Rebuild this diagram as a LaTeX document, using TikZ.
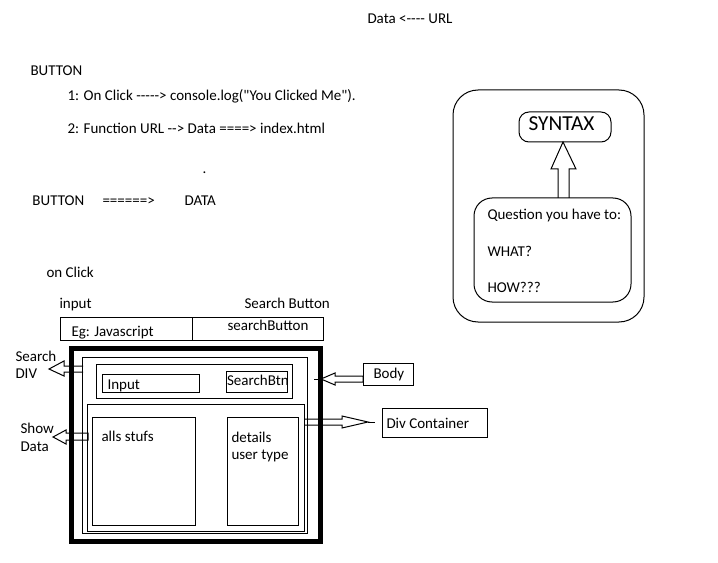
\documentclass[tikz,border=0pt]{standalone}
\usepackage{fontspec}
\setmainfont{Carlito}[Ligatures=TeXOff]
\tikzset{
  box/.style={draw,rectangle,inner sep=0pt},
  txt/.style={anchor=base west,inner sep=0pt,font=\fontsize{11.25}{13}\selectfont},
  hollow/.style={draw,fill=white,line join=miter}
}
\begin{document}
\begin{tikzpicture}[x=0.75pt,y=-0.75pt,line width=0.75pt]
\useasboundingbox[fill=white] (0,0) rectangle (718,563);

% ---- top texts
\node[txt] (tdu) at (367,24) {Data <---- URL};
\node[txt] (tb1) at (30,76) {BUTTON};
\node[txt] (tl1) at (67,101) {1: On Click -----> console.log("You Clicked Me").};
\node[txt] (tl2) at (67,134) {2: Function URL --> Data ====> index.html};
\node[txt] (tdot) at (202,174) {.};
\node[txt] (tb2) at (32,206) {BUTTON};
\node[txt] (teq) at (102,206) {======>};
\node[txt] (tdata) at (184,206) {DATA};
\node[txt] (tclick) at (46,277) {on Click};
\node[txt] (tinput) at (59,308) {input};
\node[txt] (tsb) at (244,308) {Search Button};

% ---- table
\node[box,minimum width=99pt,minimum height=17.25pt] (cellA) at (126,328.5) {};
\node[box,minimum width=98.25pt,minimum height=17.25pt] (cellB) at (257.5,328.5) {};
\node[txt] (teg) at (71,336) {Eg: Javascript};
\node[txt] (tsbtn) at (227,330) {searchButton};

% ---- hollow arrows (drawn first, boxes on top)
\coordinate (sdTip) at (49,369);
\draw[hollow] (83,366) -- (64,366) -- (64,361) -- (sdTip) -- (64,376) -- (64,372) -- (83,372);
\coordinate (shTip) at (53,437);
\draw[hollow] (88,433) -- (66,433) -- (66,430) -- (shTip) -- (66,444) -- (66,440) -- (88,440) -- cycle;
\coordinate (bdTip) at (321,379);
\draw[hollow] (363,376) -- (335,376) -- (335,373) -- (bdTip) -- (335,385) -- (335,382) -- (363,382) -- cycle;
\draw (314,379) -- (bdTip);
\coordinate (dcTip) at (368,422);
\draw[hollow] (304,419) -- (342,419) -- (342,416) -- (dcTip) -- (342,428) -- (342,425) -- (304,425);
\draw (dcTip) -- (375,422);

% ---- main layout boxes
\node[box,minimum width=186.75pt,minimum height=144.75pt,line width=3.75pt] (outer) at (196,445) {};
\node[box,minimum width=168.75pt,minimum height=132pt] (inner) at (194.5,445) {};
\node[box,minimum width=147pt,minimum height=25.5pt] (sdiv) at (194,381) {};
\node[box,minimum width=72.75pt,minimum height=13.5pt] (inp) at (150.5,383) {};
\node[box,minimum width=45.75pt,minimum height=15.75pt] (sbtn) at (256.5,381.5) {};
\node[box,minimum width=162.75pt,minimum height=95.25pt] (show) at (195.5,467.5) {};
\node[box,minimum width=77.25pt,minimum height=81pt] (alls) at (143.5,471) {};
\node[box,minimum width=53.25pt,minimum height=81pt] (det) at (262.5,471) {};
\node[box,minimum width=37.5pt,minimum height=16.5pt] (body) at (388,374) {};
\node[box,minimum width=78.75pt,minimum height=21.75pt] (divc) at (434.5,422.5) {};

\node[txt] (tsearch) at (15,361) {Search};
\node[txt] (tdiv) at (15,378) {DIV};
\node[txt] (tshow) at (20,433) {Show};
\node[txt] (tsdata) at (20,451) {Data};
\node[txt] (tinp) at (107,389) {Input};
\node[txt] (tsbt) at (226.5,385) {SearchBtn};
\node[txt] (talls) at (101,441) {alls stufs};
\node[txt] (tdet) at (231,442) {details};
\node[txt] (tut) at (231,459) {user type};
\node[txt] (tbody) at (373,378) {Body};
\node[txt] (tdivc) at (386,428) {Div Container};

% ---- right panel
\node[box,minimum width=143.25pt,minimum height=174pt,rounded corners=18.75pt] (panel) at (548.5,206) {};
\coordinate (upTip) at (563,142);
\draw[hollow] (558,198) -- (558,169) -- (551,169) -- (upTip) -- (576,169) -- (569,169) -- (569,198);
\node[box,minimum width=69pt,minimum height=22.5pt,rounded corners=7.5pt] (syn) at (565,127) {};
\node[box,minimum width=117.75pt,minimum height=78pt,rounded corners=13.5pt] (quest) at (552.5,250) {};
\node[anchor=center,inner sep=0pt,font=\fontsize{16}{18}\selectfont] (tsyn) at (561.5,124) {SYNTAX};
\node[txt] (tq) at (487,220) {Question you have to:};
\node[txt] (twhat) at (487,257) {WHAT?};
\node[txt] (thow) at (487,292) {HOW???};
\end{tikzpicture}
\end{document}
